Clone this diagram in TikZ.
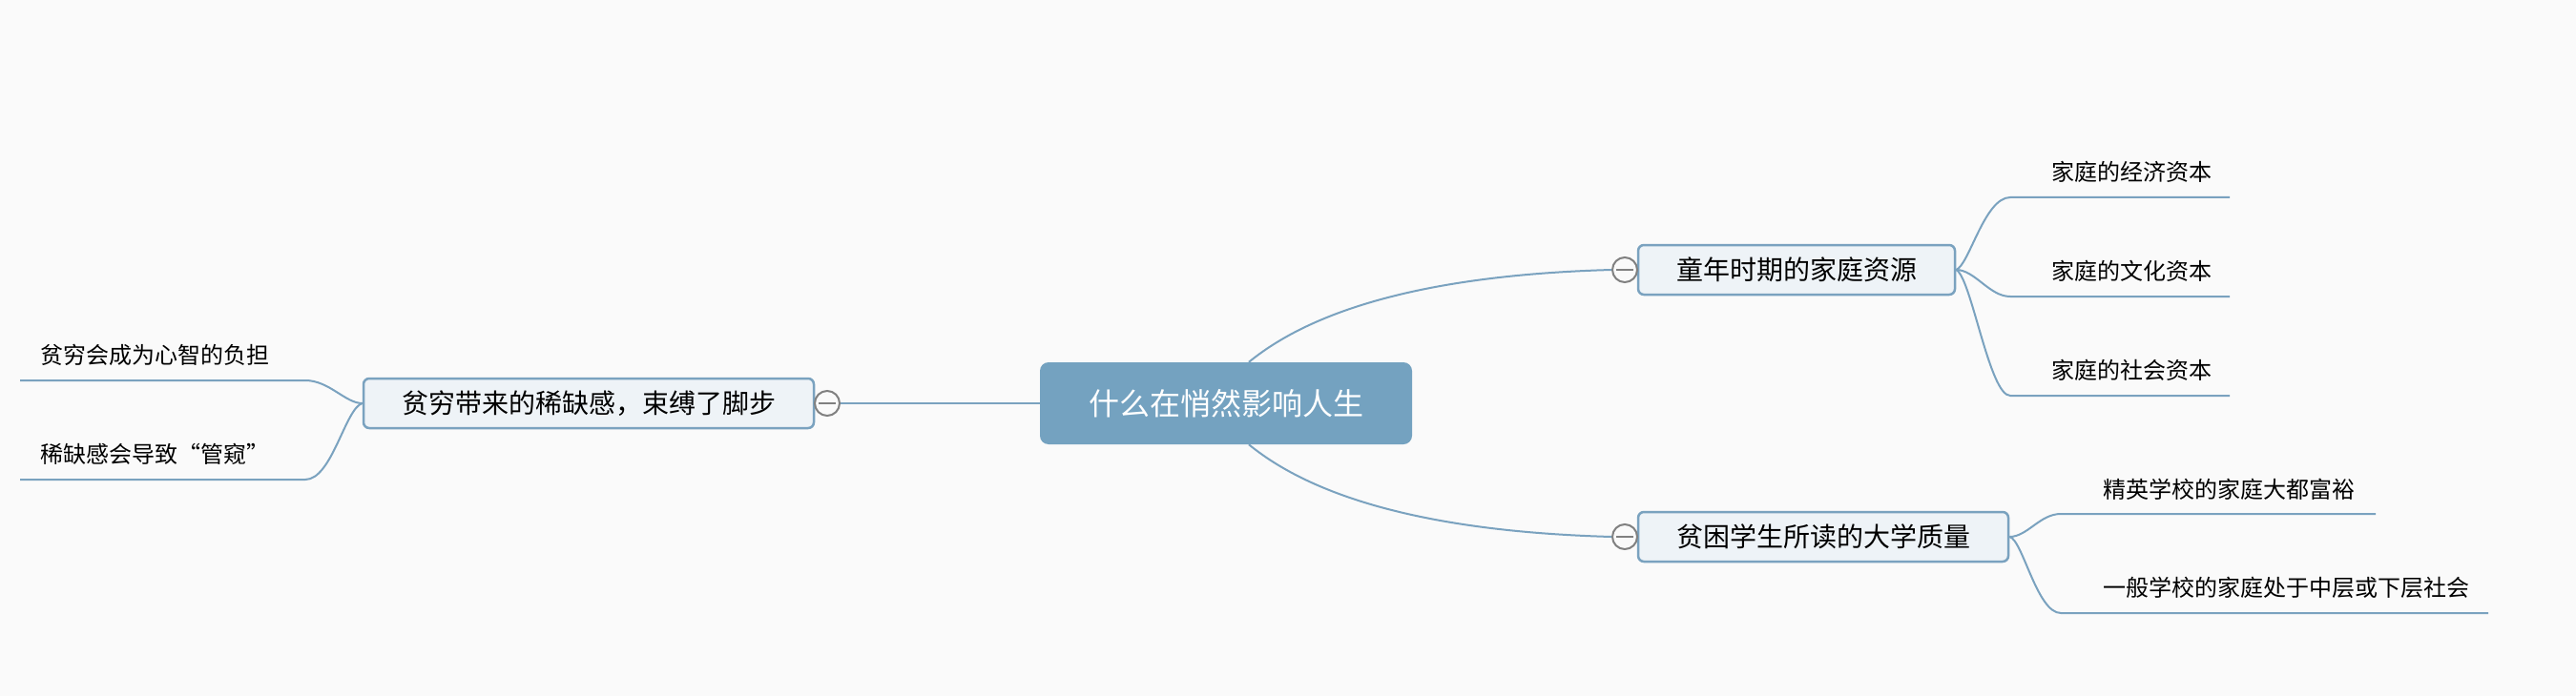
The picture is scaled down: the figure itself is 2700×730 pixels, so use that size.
\documentclass[tikz,border=0pt]{standalone}
\usepackage{fontspec}
\setmainfont{Noto Sans CJK SC}
\definecolor{bgc}{HTML}{FAFAFA}
\definecolor{linec}{HTML}{7AA2BF}
\definecolor{centc}{HTML}{74A2C0}
\definecolor{subfill}{HTML}{EEF3F7}
\definecolor{circc}{HTML}{808080}
\begin{document}
\begin{tikzpicture}[x=1pt,y=-1pt,
  centralbox/.style={draw=none, fill=centc, rounded corners=9pt, text=white,
    minimum width=390pt, minimum height=86pt, inner sep=0pt,
    font=\fontsize{32}{36}\selectfont},
  subbox/.style={draw=linec, line width=2.5pt, fill=subfill, rounded corners=6pt,
    minimum height=52pt, inner sep=0pt, font=\fontsize{28}{32}\selectfont},
  leaf/.style={anchor=west, inner sep=0pt, font=\fontsize{24}{28}\selectfont},
  conn/.style={draw=linec, line width=2pt},
  fold/.style={circle, draw=circc, line width=2pt, fill=bgc, minimum size=26pt, inner sep=0pt,
    path picture={\draw[circc, line width=2.5pt] ([xshift=-9pt]path picture bounding box.center) -- ([xshift=9pt]path picture bounding box.center);}}
]
\fill[bgc] (0,0) rectangle (2700,730);
\useasboundingbox (0,0) rectangle (2700,730);

% main nodes
\node[centralbox] (c) at (1285,423) {什么在悄然影响人生};
\node[subbox, minimum width=472pt] (l) at (617,423) {贫穷带来的稀缺感，束缚了脚步};
\node[subbox, minimum width=332pt] (r1) at (1883,283) {童年时期的家庭资源};
\node[subbox, minimum width=388pt] (r2) at (1911,563) {贫困学生所读的大学质量};

% fold markers
\node[fold] (fl) at (867,423) {};
\node[fold] (fr1) at (1703,283) {};
\node[fold] (fr2) at (1703,563) {};

% leaf texts
\node[leaf] (l1) at (42,372) {贫穷会成为心智的负担};
\node[leaf] (l2) at (42,476) {稀缺感会导致“管窥”};
\node[leaf] (a1) at (2150,180) {家庭的经济资本};
\node[leaf] (a2) at (2150,284) {家庭的文化资本};
\node[leaf] (a3) at (2150,388) {家庭的社会资本};
\node[leaf] (b1) at (2204,513) {精英学校的家庭大都富裕};
\node[leaf] (b2) at (2204,616) {一般学校的家庭处于中层或下层社会};

% underline coordinates
\coordinate (l1s) at (320,399); \coordinate (l1e) at (21,399);
\coordinate (l2s) at (320,503); \coordinate (l2e) at (21,503);
\coordinate (a1s) at (2107,207); \coordinate (a1e) at (2337,207);
\coordinate (a2s) at (2107,311); \coordinate (a2e) at (2337,311);
\coordinate (a3s) at (2107,415); \coordinate (a3e) at (2337,415);
\coordinate (b1s) at (2160,539); \coordinate (b1e) at (2490,539);
\coordinate (b2s) at (2160,643); \coordinate (b2e) at (2608,643);

% connectors from central
\draw[conn] (c.west) -- (fl.east);
\draw[conn] (c.61) .. controls (1382,320) and (1510,288) .. (fr1.west);
\draw[conn] (c.-61) .. controls (1382,526) and (1510,558) .. (fr2.west);

% left leaves
\draw[conn] (l.west) .. controls (362,423) and (345,399) .. (l1s) -- (l1e);
\draw[conn] (l.west) .. controls (362,428) and (348,503) .. (l2s) -- (l2e);

% right top leaves
\draw[conn] (r1.east) .. controls (2064,278) and (2080,207) .. (a1s) -- (a1e);
\draw[conn] (r1.east) .. controls (2070,283) and (2085,311) .. (a2s) -- (a2e);
\draw[conn] (r1.east) .. controls (2066,290) and (2085,415) .. (a3s) -- (a3e);

% right bottom leaves
\draw[conn] (r2.east) .. controls (2125,563) and (2138,539) .. (b1s) -- (b1e);
\draw[conn] (r2.east) .. controls (2120,566) and (2135,643) .. (b2s) -- (b2e);
\end{tikzpicture}
\end{document}
